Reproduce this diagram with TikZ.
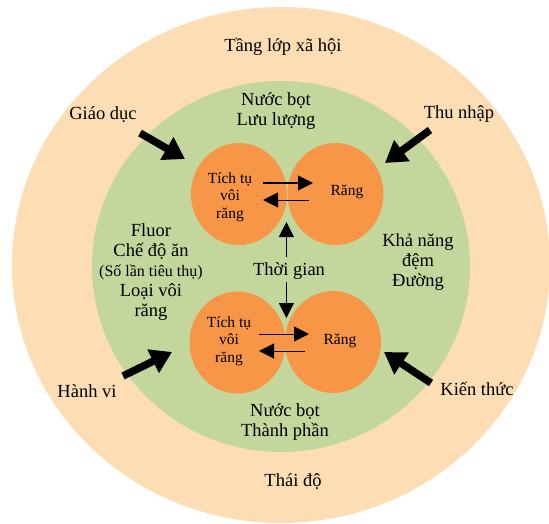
\documentclass[tikz,border=0pt]{standalone}
\usepackage{fontspec}
\setmainfont{Liberation Serif}
\usetikzlibrary{arrows.meta,shapes.geometric}
\definecolor{outerpeach}{HTML}{FDDEB4}
\definecolor{midgreen}{HTML}{C3D69B}
\definecolor{coreorange}{HTML}{F79646}
\begin{document}
\begin{tikzpicture}[x=1pt,y=-1pt,
  bigtxt/.style={font=\fontsize{18.5}{20}\selectfont, align=center, inner sep=0pt},
  smalltxt/.style={font=\fontsize{15.5}{17.5}\selectfont, align=center, inner sep=0pt},
  ring/.style={ellipse, inner sep=0pt},
  lobe/.style={ellipse, fill=coreorange, minimum width=96pt, minimum height=102pt, inner sep=0pt},
  heavyarrow/.style={line width=7.5pt, -{Triangle[length=21pt,width=25pt]}},
  thinarrow/.style={line width=1pt, -{Triangle[length=15pt,width=15pt]}}]

\useasboundingbox (0,0) rectangle (549,524);

% background rings
\node[ring, fill=outerpeach, minimum width=538pt, minimum height=516pt] (society) at (281,265) {};
\node[ring, fill=midgreen, minimum width=378pt, minimum height=371pt] (oral) at (281,266.5) {};

% the four lobes
\node[lobe] (plaqueA) at (239,194) {};
\node[lobe] (toothA)  at (335.5,194) {};
\node[lobe] (plaqueB) at (237.5,342.5) {};
\node[lobe] (toothB)  at (333,342) {};

% outer ring labels
\node[bigtxt] (classlbl) at (283,47) {Tầng lớp xã hội};
\node[bigtxt] (attlbl)   at (293,482) {Thái độ};
\node[bigtxt] (edulbl)   at (103,115) {Giáo dục};
\node[bigtxt] (inclbl)   at (459,114) {Thu nhập};
\node[bigtxt] (behlbl)   at (87,391) {Hành vi};
\node[bigtxt] (knowlbl)  at (477,389) {Kiến thức};

% middle ring labels
\node[bigtxt] (flowlbl) at (276,111) {Nước bọt\\Lưu lượng};
\node[bigtxt] (complbl) at (285,422) {Nước bọt\\Thành phần};
\node[bigtxt] (leftlbl) at (151,272) {Fluor\\Chế độ ăn\\{\fontsize{16}{20}\selectfont(Số lần tiêu thụ)}\\Loại vôi\\răng};
\node[bigtxt] (rightlbl) at (418,262) {Khả năng\\đệm\\Đường};
\node[bigtxt] (timelbl) at (289,271) {Thời gian};

% lobe labels
\node[smalltxt] (plaqueAlbl) at (230,197) {Tích tụ\\vôi\\răng};
\node[smalltxt] (toothAlbl)  at (347,192) {Răng};
\node[smalltxt] (plaqueBlbl) at (229,341) {Tích tụ\\vôi\\răng};
\node[smalltxt] (toothBlbl)  at (340,341) {Răng};

% heavy arrows from the outer factors
\coordinate (eduS) at (140,133);  \coordinate (eduE) at (185,159);
\coordinate (incS) at (430,130);  \coordinate (incE) at (385,163);
\coordinate (behS) at (123,376);  \coordinate (behE) at (172,352);
\coordinate (knowS) at (431,383); \coordinate (knowE) at (384,352);
\draw[heavyarrow] (eduS) -- (eduE);
\draw[heavyarrow] (incS) -- (incE);
\draw[heavyarrow] (behS) -- (behE);
\draw[heavyarrow] (knowS) -- (knowE);

% exchange arrows between plaque and tooth
\coordinate (a1) at (262.6,183); \coordinate (a2) at (313,183);
\coordinate (a3) at (309,200);   \coordinate (a4) at (263,200);
\coordinate (b1) at (259,334);   \coordinate (b2) at (309,334);
\coordinate (b3) at (305,351);   \coordinate (b4) at (259,351);
\draw[thinarrow] (a1) -- (a2);
\draw[thinarrow] (a3) -- (a4);
\draw[thinarrow] (b1) -- (b2);
\draw[thinarrow] (b3) -- (b4);

% time arrows
\coordinate (t1) at (286.4,257); \coordinate (t2) at (286.4,222);
\coordinate (t3) at (286.4,282); \coordinate (t4) at (286.4,318);
\draw[thinarrow] (t1) -- (t2);
\draw[thinarrow] (t3) -- (t4);
\end{tikzpicture}
\end{document}
